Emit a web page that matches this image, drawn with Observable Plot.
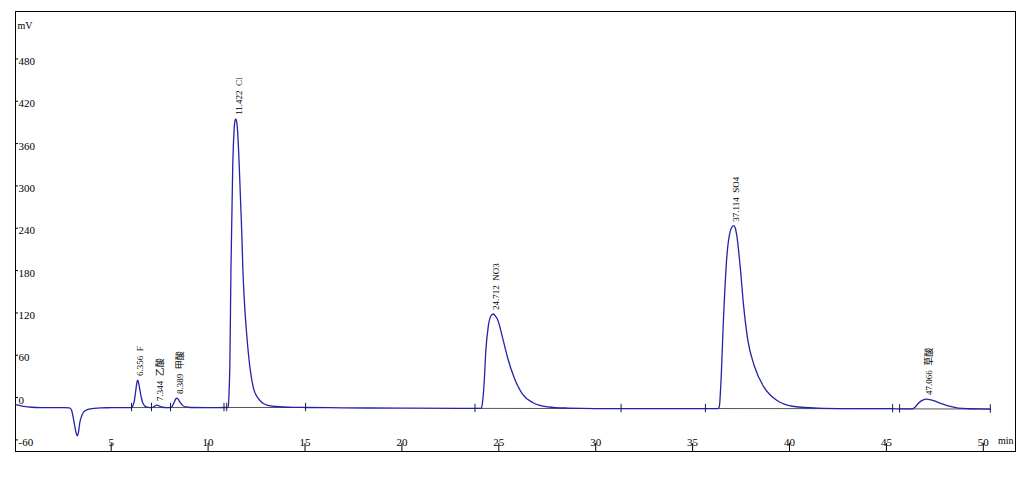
<!DOCTYPE html>
<html>
<head>
<meta charset="utf-8">
<script src="https://cdn.jsdelivr.net/npm/d3@7"></script>
<script src="https://cdn.jsdelivr.net/npm/@observablehq/plot@0.6"></script>
<style>
  html, body { margin: 0; padding: 0; background: #fff; }
  #chart svg { display: block; }
</style>
</head>
<body>
<div id="chart"></div>
<script>
// ---- Data ----
// Signal (retention time in min, detector response in mV)
const signalTime = [
  0.06, 0.4, 0.9, 1.5, 2.5, 2.85, 2.95, 3.07, 3.17, 3.25, 3.32, 3.38, 3.47, 3.56, 3.7, 3.85, 4.1, 4.45, 5.0, 5.5,
  6.04, 6.12, 6.2, 6.27, 6.32, 6.356, 6.40, 6.47, 6.55, 6.63, 6.72, 6.85, 7.0,
  7.1, 7.2, 7.28, 7.344, 7.42, 7.52, 7.65, 7.85,
  8.05, 8.15, 8.25, 8.33, 8.389, 8.45, 8.55, 8.68, 8.85, 9.1, 10.0, 10.5,
  10.95, 11.04, 11.08, 11.12, 11.18, 11.27, 11.34, 11.38, 11.422, 11.47, 11.52, 11.61, 11.74, 11.79, 11.87, 11.99,
  12.16, 12.33, 12.59, 13.03, 13.71, 14.5, 15.0, 17.0, 20.0, 23.0,
  23.8, 24.08, 24.15, 24.24, 24.33, 24.45, 24.57, 24.712, 24.83, 24.96, 25.19, 25.45, 25.79, 26.22, 26.74,
  27.51, 28.54, 30.0, 31.3, 33.0, 35.66,
  36.3, 36.38, 36.46, 36.6, 36.77, 36.91, 37.0, 37.114, 37.2, 37.28, 37.45, 37.63, 37.84, 38.18, 38.69,
  39.38, 40.24, 41.45, 43.0, 45.3,
  45.7, 46.35, 46.5, 46.65, 46.85, 47.066, 47.3, 47.6, 47.9, 48.3, 48.7, 49.3, 49.8, 50.36
];
const signalMv = [
  -6.6, -8.5, -10.2, -10.6, -10.8, -11.0, -14, -29, -44, -50.6, -44, -32, -23, -17.6, -14.5, -12.8, -11.8, -11.0, -10.8, -10.6,
  -10.6, -8, 0, 14, 24, 28.4, 26, 16, 4, -4, -8, -10, -10.6,
  -10.6, -9.5, -7.8, -7.1, -7.6, -9, -10.2, -10.6,
  -10.6, -8.5, -3, 1.5, 2.8, 1.5, -3, -7.5, -9.8, -10.5, -10.6, -10.6,
  -10.5, -10.3, 10, 46, 188, 330, 382, 395, 398.6, 395, 382, 330, 235, 188, 141, 93.6,
  46, 18, 2.3, -7, -9.5, -10.3, -10.5, -11.0, -11.5, -11.8,
  -11.8, -11.8, -5, 22.7, 70, 103, 118, 122, 119, 112.5, 88.8, 60.4, 32, 8.5, -3.4,
  -9.5, -11.3, -12, -12, -12, -12,
  -12, -9, 25, 119.6, 204.7, 235.5, 244, 247.2, 244, 233, 190.5, 133.8, 86.5, 48.7, 17.9,
  -1, -9.1, -11.3, -12, -12.2,
  -12.5, -12.5, -9.5, -4.5, -0.5, 1.4, 0.3, -2.5, -5.5, -9, -11.3, -12.3, -12.6, -12.7
];

// Identified peaks
const peakTime  = [6.356, 7.344, 8.389, 11.422, 24.712, 37.114, 47.066];
const peakMv    = [28.4, -7.1, 2.8, 398.6, 122, 247.2, 1.4];
const peakLabel = ["6.356  F", "7.344  乙酸", "8.389  甲酸", "11.422  Cl", "24.712  NO3", "37.114  SO4", "47.066  草酸"];

// Integration baseline segments and peak start/end markers
const segStart   = [6.05, 7.08, 8.06, 10.96, 23.77, 35.66, 45.68];
const segEnd     = [7.08, 8.06, 10.82, 15.03, 31.31, 45.32, 50.36];
const segStartMv = [-10.6, -10.6, -10.6, -10.5, -11.8, -12.0, -12.5];
const segEndMv   = [-10.6, -10.6, -10.6, -10.5, -12.0, -12.2, -12.7];
const markerTime = [6.05, 7.08, 8.06, 10.82, 10.96, 15.03, 23.77, 31.31, 35.66, 45.32, 45.68, 50.36];
const markerMv   = [-10.6, -10.6, -10.6, -10.6, -10.5, -10.5, -11.8, -12.0, -12.0, -12.2, -12.5, -12.7];

// Axes
const xTicks = [5, 10, 15, 20, 25, 30, 35, 40, 45, 50];
const yTicks = [-60, 0, 60, 120, 180, 240, 300, 360, 420, 480];
const yTickLabels = ["-60", "0", "60", "120", "180", "240", "300", "360", "420", "480"];

// ---- Build tables ----
const signal = signalTime.map((t, i) => ({t, v: signalMv[i]}));
const peaks = peakTime.map((t, i) => ({t, v: peakMv[i], label: peakLabel[i]}));
const segs = segStart.map((s, i) => ({x1: s, x2: segEnd[i], y1: segStartMv[i], y2: segEndMv[i]}));
const markers = markerTime.map((t, i) => ({t, v: markerMv[i]}));
const yAxis = yTicks.map((v, i) => ({v, label: yTickLabels[i]}));

const MARK_HALF = 6; // half-length of integration markers, mV
const serif = "'Liberation Serif', 'Noto Sans CJK SC', serif";

const chart = Plot.plot({
  width: 1027,
  height: 477,
  marginLeft: 15,
  marginRight: 12,
  marginTop: 11,
  marginBottom: 26,
  x: {domain: [0.062, 51.66], axis: null},
  y: {domain: [-72.9, 550.8], axis: null},
  style: {fontFamily: serif, background: "white", color: "black"},
  marks: [
    Plot.frame({stroke: "black", strokeWidth: 1}),
    // y ticks (inside the frame) and labels
    Plot.tickY(yAxis, {y: "v", insetRight: 997, dy: -2.5, stroke: "black"}),
    Plot.text(yAxis, {y: "v", text: "label", frameAnchor: "left", textAnchor: "start", dx: 3, fontSize: 11, fill: "black"}),
    // x ticks (inside the frame) and labels
    Plot.tickX(xTicks, {x: d => d, insetTop: 432, stroke: "black"}),
    Plot.text(xTicks, {x: d => d, text: d => String(d), frameAnchor: "bottom", dy: -6, fontSize: 11, fill: "black"}),
    Plot.text(["mV"], {frameAnchor: "top-left", text: d => d, textAnchor: "start", dx: 2, dy: 10, fontSize: 10, fill: "black"}),
    Plot.text(["min"], {frameAnchor: "bottom-right", text: d => d, textAnchor: "end", dx: -2, dy: -8, fontSize: 10, fill: "black"}),
    // integration baseline
    Plot.link(segs, {x1: "x1", x2: "x2", y1: "y1", y2: "y2", stroke: "#555", strokeWidth: 1}),
    // chromatogram signal
    Plot.line(signal, {x: "t", y: "v", stroke: "#2323a8", strokeWidth: 1.3, curve: "monotone-x"}),
    // peak start/end markers
    Plot.ruleX(markers, {x: "t", y1: d => d.v - MARK_HALF, y2: d => d.v + MARK_HALF, stroke: "#1a1a4a", strokeWidth: 1}),
    // peak labels
    Plot.text(peaks, {x: "t", y: "v", text: "label", rotate: -90, textAnchor: "start", dx: 3, dy: -4, fontSize: 9, fill: "black"})
  ]
});

document.getElementById("chart").appendChild(chart);
</script>
</body>
</html>
